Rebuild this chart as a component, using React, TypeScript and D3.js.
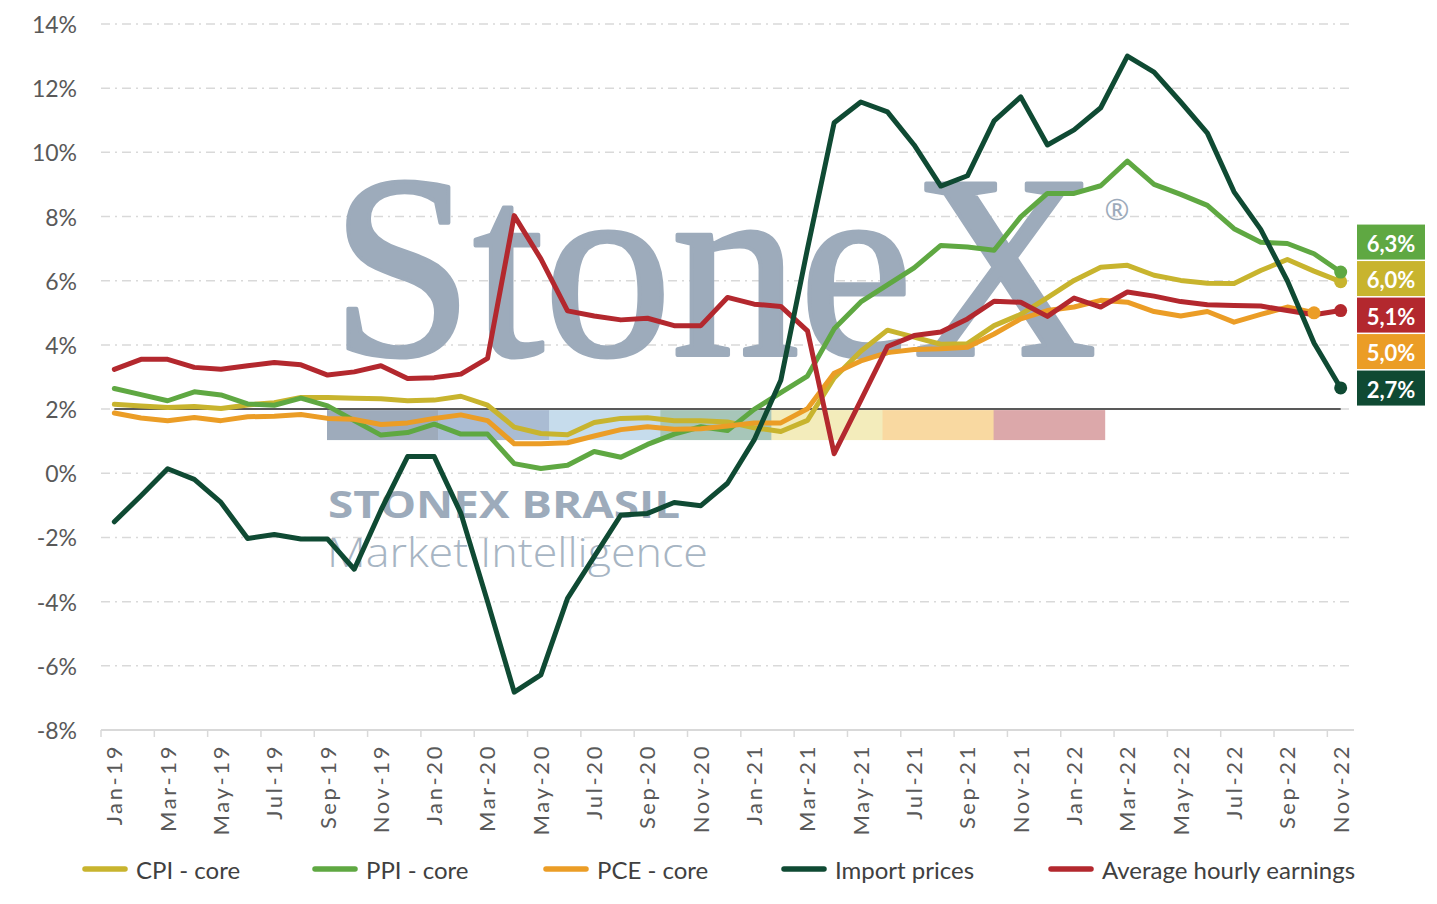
import React, { useEffect } from "react";
import * as d3 from "d3";

// categories (monthly, Jan-19 .. Nov-22)
const MONTHS = [
  "Jan-19", "Feb-19", "Mar-19", "Apr-19", "May-19", "Jun-19", "Jul-19", "Aug-19", "Sep-19", "Oct-19", "Nov-19", "Dec-19",
  "Jan-20", "Feb-20", "Mar-20", "Apr-20", "May-20", "Jun-20", "Jul-20", "Aug-20", "Sep-20", "Oct-20", "Nov-20", "Dec-20",
  "Jan-21", "Feb-21", "Mar-21", "Apr-21", "May-21", "Jun-21", "Jul-21", "Aug-21", "Sep-21", "Oct-21", "Nov-21", "Dec-21",
  "Jan-22", "Feb-22", "Mar-22", "Apr-22", "May-22", "Jun-22", "Jul-22", "Aug-22", "Sep-22", "Oct-22", "Nov-22",
];

// y/y % change
const CPI_CORE = [
  2.15, 2.1, 2.05, 2.08, 2.02, 2.13, 2.2, 2.36, 2.36, 2.34, 2.32, 2.26,
  2.28, 2.4, 2.12, 1.44, 1.24, 1.2, 1.58, 1.71, 1.73, 1.64, 1.64, 1.6,
  1.42, 1.3, 1.65, 2.97, 3.8, 4.46, 4.24, 4.02, 4.04, 4.6, 4.95, 5.47,
  6.01, 6.42, 6.48, 6.17, 6.01, 5.92, 5.91, 6.32, 6.66, 6.3, 5.97,
];
const PPI_CORE = [
  2.64, 2.45, 2.26, 2.54, 2.44, 2.16, 2.12, 2.34, 2.1, 1.64, 1.19, 1.27,
  1.53, 1.22, 1.22, 0.3, 0.15, 0.25, 0.68, 0.5, 0.9, 1.22, 1.45, 1.33,
  1.99, 2.51, 3.03, 4.5, 5.34, 5.87, 6.4, 7.1, 7.05, 6.95, 7.99, 8.72,
  8.72, 8.96, 9.73, 9.0, 8.69, 8.35, 7.62, 7.2, 7.16, 6.84, 6.27,
];
// PCE ends in Oct-22
const PCE_CORE = [
  1.88, 1.72, 1.64, 1.74, 1.64, 1.76, 1.78, 1.83, 1.71, 1.68, 1.52, 1.57,
  1.71, 1.82, 1.64, 0.92, 0.92, 0.95, 1.16, 1.36, 1.45, 1.37, 1.39, 1.47,
  1.57, 1.57, 2.01, 3.12, 3.5, 3.76, 3.86, 3.88, 3.93, 4.34, 4.81, 5.07,
  5.18, 5.39, 5.33, 5.04, 4.9, 5.04, 4.71, 4.95, 5.18, 5.0,
];
const IMPORT_PRICES = [
  -1.51, -0.7, 0.14, -0.19, -0.91, -2.03, -1.91, -2.05, -2.05, -2.99, -1.15, 0.52,
  0.52, -1.25, -4.0, -6.82, -6.28, -3.9, -2.6, -1.3, -1.25, -0.91, -1.01, -0.31,
  1.04, 2.9, 7.0, 10.92, 11.57, 11.26, 10.23, 8.95, 9.27, 10.98, 11.73, 10.23,
  10.7, 11.39, 13.0, 12.5, 11.57, 10.6, 8.77, 7.6, 6.0, 4.06, 2.66,
];
const HOURLY_EARNINGS = [
  3.24, 3.55, 3.55, 3.3, 3.24, 3.35, 3.45, 3.38, 3.06, 3.16, 3.35, 2.95,
  2.98, 3.09, 3.58, 8.03, 6.68, 5.06, 4.9, 4.78, 4.83, 4.6, 4.6, 5.48,
  5.27, 5.2, 4.44, 0.61, 2.27, 3.95, 4.29, 4.4, 4.81, 5.36, 5.33, 4.89,
  5.46, 5.18, 5.65, 5.52, 5.35, 5.25, 5.23, 5.21, 5.07, 4.94, 5.07,
];
const TARGET = 2;

const Y_TICKS = [-8, -6, -4, -2, 0, 2, 4, 6, 8, 10, 12, 14];

interface Series {
  name: string;
  color: string;
  values: number[];
}

const SERIES: Series[] = [
  { name: "CPI - core", color: "#c8b42e", values: CPI_CORE },
  { name: "PPI - core", color: "#5fa842", values: PPI_CORE },
  { name: "PCE - core", color: "#eb9d26", values: PCE_CORE },
  { name: "Import prices", color: "#0f4a33", values: IMPORT_PRICES },
  { name: "Average hourly earnings", color: "#b3282e", values: HOURLY_EARNINGS },
];

// import prices sit on top in the original
const DRAW_ORDER = [0, 1, 2, 4, 3];

// watermark strip colours
const BAND_COLORS = ["#9eabbb", "#aabcd3", "#c6dcec", "#a7c6b9", "#f3ecbb", "#f9d9a1", "#dca8aa"];

const LEGEND_X = [83, 313, 544, 782, 1049];

const FONT = "Lato, 'Noto Sans', sans-serif";
const WM = "#9dabbb";

const fmt = (v: number) => v.toFixed(1).replace(".", ",") + "%";

export default function App() {
  useEffect(() => {
    document.body.style.margin = "0";
  }, []);

  const width = 1437;
  const height = 904;

  const x = d3.scaleBand<string>().domain(MONTHS).range([101, 1354]).padding(0);
  const y = d3.scaleLinear().domain([-8, 14]).range([730, 24]);
  const cx = (i: number) => (x(MONTHS[i]) as number) + x.bandwidth() / 2;

  const line = d3
    .line<number>()
    .x((_, i) => cx(i))
    .y((d) => y(d));

  const [xLeft, xRight] = x.range();

  // end labels, stacked in descending order of the last value
  const ends = SERIES.map((s) => ({ s, last: s.values[s.values.length - 1] }))
    .sort((a, b) => b.last - a.last);
  const boxTop = y(7.75);
  const boxH = 35;
  const boxStep = 36.5;

  // watermark strip spans Sep-19 .. Feb-22 roughly
  const bandX0 = 327;
  const bandW = 111.1;

  return (
    <div style={{ position: "absolute", left: 0, top: 0 }}>
      <svg width={width} height={height} style={{ display: "block", background: "#fff" }} fontFamily={FONT}>
        {/* gridlines */}
        {Y_TICKS.filter((t) => t !== -8).map((t) => (
          <line
            key={t}
            x1={xLeft}
            x2={xRight}
            y1={y(t)}
            y2={y(t)}
            stroke="#d9d9d9"
            strokeWidth={1.5}
            strokeDasharray="9 5 2 5"
          />
        ))}

        {/* watermark */}
        <g>
          {BAND_COLORS.map((c, i) => (
            <rect key={c} x={bandX0 + i * bandW} y={y(TARGET) + 1} width={bandW + 0.5} height={30} fill={c} />
          ))}
          <text
            x={331}
            y={355}
            fill={WM}
            stroke={WM}
            strokeWidth={4}
            strokeLinejoin="round"
            fontFamily="'Liberation Serif', 'DejaVu Serif', serif"
            fontWeight={400}
            fontSize={262}
            textLength={766}
            lengthAdjust="spacingAndGlyphs"
          >
            StoneX
          </text>
          <text x={1117} y={208} fill={WM} fontSize={30} textAnchor="middle" dominantBaseline="central" fontFamily="'Open Sans', sans-serif">
            ®
          </text>
          <text
            x={328}
            y={518}
            fill={WM}
            fontFamily="'Open Sans', sans-serif"
            fontWeight={700}
            fontSize={38}
            textLength={352}
            lengthAdjust="spacingAndGlyphs"
          >
            STONEX BRASIL
          </text>
          <text
            x={327}
            y={567}
            fill="#a7b5c3"
            fontFamily="'Open Sans', sans-serif"
            fontWeight={300}
            fontSize={40}
            textLength={381}
            lengthAdjust="spacingAndGlyphs"
          >
            Market Intelligence
          </text>
        </g>

        {/* 2% reference */}
        <line x1={cx(0)} x2={cx(MONTHS.length - 1)} y1={y(TARGET)} y2={y(TARGET)} stroke="#595959" strokeWidth={2} />

        {/* series */}
        {DRAW_ORDER.map((k) => {
          const s = SERIES[k];
          return (
            <path
              key={s.name}
              d={line(s.values) || ""}
              fill="none"
              stroke={s.color}
              strokeWidth={5}
              strokeLinejoin="round"
              strokeLinecap="round"
            />
          );
        })}
        {SERIES.map((s) => {
          const i = s.values.length - 1;
          return <circle key={s.name} cx={cx(i)} cy={y(s.values[i])} r={6.5} fill={s.color} />;
        })}

        {/* end value boxes */}
        {ends.map((e, j) => (
          <g key={e.s.name} transform={`translate(1357, ${boxTop + j * boxStep})`}>
            <rect width={68} height={boxH} fill={e.s.color} />
            <text
              x={34}
              y={boxH / 2 + 1}
              textAnchor="middle"
              dominantBaseline="central"
              fill="#fff"
              fontWeight={700}
              fontSize={22}
            >
              {fmt(e.last)}
            </text>
          </g>
        ))}

        {/* y axis labels */}
        {Y_TICKS.map((t) => (
          <text key={t} x={77} y={y(t)} textAnchor="end" dominantBaseline="central" fill="#595959" fontSize={23}>
            {t}%
          </text>
        ))}

        {/* x axis */}
        <line x1={xLeft} x2={xRight} y1={y(-8)} y2={y(-8)} stroke="#d9d9d9" strokeWidth={2} />
        {MONTHS.filter((_, i) => i % 2 === 0).map((m) => (
          <line
            key={"t" + m}
            x1={x(m) as number}
            x2={x(m) as number}
            y1={y(-8)}
            y2={y(-8) + 7}
            stroke="#d9d9d9"
            strokeWidth={1.5}
          />
        ))}
        {MONTHS.map((m, i) =>
          i % 2 === 0 ? (
            <text
              key={m}
              transform={`translate(${cx(i)}, ${y(-8) + 14}) rotate(-90)`}
              textAnchor="end"
              dy="0.36em"
              fill="#595959"
              fontSize={22}
              letterSpacing={2.6}
            >
              {m}
            </text>
          ) : null
        )}

        {/* legend */}
        {SERIES.map((s, i) => (
          <g key={s.name} transform={`translate(${LEGEND_X[i]}, 869)`}>
            <line x1={2} x2={42} y1={0} y2={0} stroke={s.color} strokeWidth={5.5} strokeLinecap="round" />
            <text x={53} y={0} dominantBaseline="central" fill="#404040" fontSize={24}>
              {s.name}
            </text>
          </g>
        ))}
      </svg>
    </div>
  );
}
